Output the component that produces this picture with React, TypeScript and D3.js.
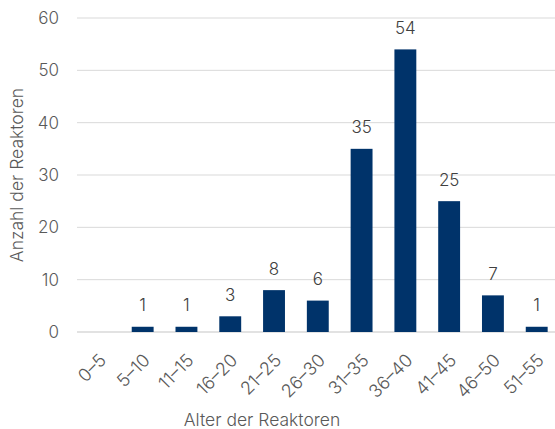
import { useRef, useEffect } from "react";
import * as d3 from "d3";

const categories = ["0-5", "5-10", "11-15", "16-20", "21-25", "26-30", "31-35", "36-40", "41-45", "46-50", "51-55"];
const values = [0, 1, 1, 3, 8, 6, 35, 54, 25, 7, 1];
const yTicks = [0, 10, 20, 30, 40, 50, 60];

const width = 555;
const height = 429;
const font = "Inter, 'Open Sans', sans-serif";

function App() {
  const ref = useRef<SVGSVGElement | null>(null);

  useEffect(() => {
    if (!ref.current) return;
    const svg = d3.select(ref.current).html("");

    const left = 77;
    const right = 558.6;
    const top = 18;
    const bottom = 332;

    const data = categories.map((c, i) => ({ cat: c, value: values[i] }));

    const x = d3
      .scaleBand()
      .domain(categories)
      .range([left, right])
      .paddingInner(0.5)
      .paddingOuter(0.25);
    const y = d3.scaleLinear().domain([0, 60]).range([bottom, top]);

    // gridlines
    svg
      .append("g")
      .selectAll("line")
      .data(yTicks)
      .enter()
      .append("line")
      .attr("x1", left)
      .attr("x2", right)
      .attr("y1", (d) => y(d))
      .attr("y2", (d) => y(d))
      .attr("stroke", "#d9d9d9")
      .attr("stroke-width", (d) => (d === 0 ? 1.5 : 1));

    // y tick labels
    svg
      .append("g")
      .selectAll("text")
      .data(yTicks)
      .enter()
      .append("text")
      .attr("x", 59)
      .attr("y", (d) => y(d))
      .attr("dy", "0.35em")
      .attr("text-anchor", "end")
      .attr("fill", "#595959")
      .style("font-family", font)
      .style("font-weight", 300)
      .style("font-size", "17px")
      .text((d) => d);

    // bars
    svg
      .append("g")
      .selectAll("rect")
      .data(data)
      .enter()
      .append("rect")
      .attr("x", (d) => x(d.cat) as number)
      .attr("width", x.bandwidth())
      .attr("y", (d) => y(d.value))
      .attr("height", (d) => bottom - y(d.value))
      .attr("fill", "#00336a");

    // value labels
    svg
      .append("g")
      .selectAll("text")
      .data(data.filter((d) => d.value > 0))
      .enter()
      .append("text")
      .attr("x", (d) => (x(d.cat) as number) + x.bandwidth() / 2)
      .attr("y", (d) => y(d.value) - 15.5)
      .attr("text-anchor", "middle")
      .attr("fill", "#404040")
      .style("font-family", font)
      .style("font-weight", 300)
      .style("font-size", "17px")
      .text((d) => d.value);

    // x tick labels
    svg
      .append("g")
      .selectAll("text")
      .data(categories)
      .enter()
      .append("text")
      .attr("transform", (d) => `translate(${(x(d) as number) + x.bandwidth() / 2 + 4},${bottom + 25}) rotate(-45)`)
      .attr("text-anchor", "end")
      .attr("dy", "0.35em")
      .attr("fill", "#595959")
      .style("font-family", font)
      .style("font-weight", 300)
      .style("font-size", "18px")
      .text((d) => d.replace("-", "–"));

    // axis titles
    svg
      .append("text")
      .attr("x", 262)
      .attr("y", 426)
      .attr("text-anchor", "middle")
      .attr("fill", "#595959")
      .style("font-family", font)
      .style("font-weight", 300)
      .style("font-size", "17.5px")
      .text("Alter der Reaktoren");

    svg
      .append("text")
      .attr("transform", `translate(23,175) rotate(-90)`)
      .attr("text-anchor", "middle")
      .attr("fill", "#595959")
      .style("font-family", font)
      .style("font-weight", 300)
      .style("font-size", "17.5px")
      .text("Anzahl der Reaktoren");
  }, []);

  return (
    <svg
      ref={ref}
      width={width}
      height={height}
      style={{ position: "absolute", left: 0, top: 0, background: "#fff" }}
    ></svg>
  );
}
export default App;
